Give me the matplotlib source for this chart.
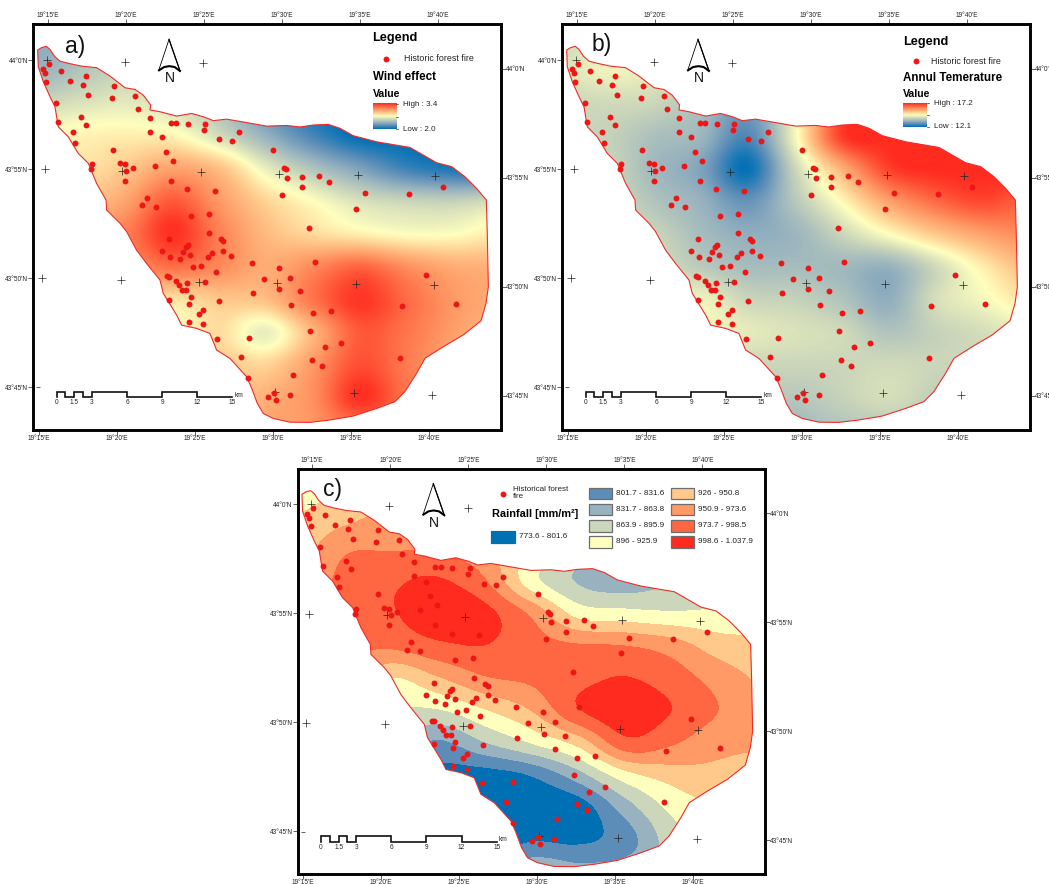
#!/usr/bin/env python3
"""Wind effect, annual temperature and rainfall maps with historic forest fires."""

import matplotlib
matplotlib.use('Agg')
import matplotlib.pyplot as plt
from matplotlib.colors import BoundaryNorm, LinearSegmentedColormap, ListedColormap
from matplotlib.patches import Polygon, Rectangle
import numpy as np

plt.rcParams['font.family'] = ['Liberation Sans', 'DejaVu Sans']

# all positions are minutes: lon = 19 deg + x', lat = 43 deg + y'
lon_ticks = [15, 20, 25, 30, 35, 40]
lon_labels = ["19°15'E", "19°20'E", "19°25'E", "19°30'E", "19°35'E", "19°40'E"]
lat_ticks = [60, 55, 50, 45]
lat_labels = ["44°0'N", "43°55'N", "43°50'N", "43°45'N"]

border_lon = [14.34, 14.59, 14.89, 15.13, 15.41, 15.77, 16.30, 17.16, 18.12, 18.97,
              19.94, 20.58, 21.11, 21.58, 21.54, 22.18, 23.25, 24.21, 24.96, 25.60,
              26.45, 27.74, 29.02, 30.30, 31.15, 32.01, 32.97, 33.72, 34.57, 36.07,
              38.21, 39.06, 39.91, 40.88, 41.73, 42.48, 43.10, 43.16, 43.23, 43.08,
              42.76, 41.62, 40.34, 39.17, 38.63, 37.88, 37.24, 36.07, 34.57, 33.08,
              31.79, 30.51, 29.44, 28.80, 28.42, 28.06, 27.74, 26.67, 25.81, 25.38,
              24.53, 23.57, 23.25, 22.39, 22.18, 21.32, 20.68, 20.04, 19.62, 18.76,
              18.72, 18.12, 17.59, 16.94, 16.30, 15.66, 15.45, 15.13, 14.70, 14.38]
border_lat = [60.46, 60.57, 60.63, 60.49, 60.18, 59.95, 59.85, 59.72, 59.65, 59.27,
              58.73, 58.65, 58.39, 57.94, 57.71, 57.63, 57.43, 57.55, 57.40, 57.22,
              57.29, 57.13, 56.97, 57.00, 56.93, 57.02, 57.05, 56.87, 56.53, 56.25,
              55.99, 55.64, 55.29, 55.11, 54.65, 54.11, 53.58, 52.05, 49.60, 48.84,
              48.04, 47.39, 46.85, 46.32, 45.63, 44.79, 44.33, 44.02, 43.67, 43.49,
              43.38, 43.39, 43.56, 43.79, 44.25, 44.94, 45.47, 46.31, 46.70, 47.46,
              47.69, 47.84, 48.30, 49.30, 49.91, 50.67, 51.28, 52.13, 52.51, 53.12,
              53.58, 54.34, 55.26, 55.72, 56.48, 56.94, 57.86, 58.32, 59.01, 59.69]

fire_lon = [15.06, 14.68, 14.81, 14.89, 15.81, 16.43, 17.44, 17.26, 17.59, 15.51,
            15.66, 17.14, 17.46, 16.58, 16.71, 19.21, 19.08, 20.56, 20.75, 21.52,
            21.52, 22.31, 22.86, 23.23, 23.97, 25.09, 24.98, 25.98, 26.79, 27.22,
            19.19, 22.56, 22.99, 21.88, 19.59, 19.91, 20.02, 20.43, 19.94, 17.80,
            17.76, 22.88, 23.93, 25.68, 21.35, 21.05, 21.90, 24.17, 25.30, 25.34,
            22.78, 26.07, 26.24, 23.95, 23.82, 23.65, 22.31, 22.84, 23.48, 24.12,
            25.26, 25.49, 26.24, 26.73, 24.27, 24.83, 25.77, 28.06, 22.65, 22.78,
            23.18, 23.38, 23.57, 23.87, 23.93, 25.09, 24.17, 22.78, 24.02, 25.96,
            24.91, 24.66, 24.04, 24.94, 25.85, 27.86, 27.39, 27.84, 29.44, 30.11,
            30.26, 30.32, 31.28, 32.39, 32.99, 31.26, 29.98, 35.30, 38.12, 40.30,
            34.76, 31.73, 32.09, 29.81, 28.82, 30.53, 29.83, 31.18, 28.14, 30.58,
            31.97, 33.14, 31.77, 33.76, 32.76, 31.94, 32.59, 30.71, 29.49, 29.10,
            29.59, 30.49, 39.25, 37.67, 41.13, 37.56]
fire_lat = [59.83, 59.57, 59.39, 58.99, 59.51, 59.05, 59.28, 58.87, 58.41, 58.04,
            57.17, 57.40, 57.03, 56.68, 56.21, 58.81, 58.27, 58.35, 57.74, 57.35,
            56.71, 56.45, 57.11, 57.11, 57.06, 57.06, 56.79, 56.36, 56.28, 56.68,
            55.89, 55.80, 55.38, 55.15, 55.26, 55.21, 54.92, 55.05, 54.46, 55.21,
            54.98, 54.46, 54.07, 54.01, 53.67, 53.33, 53.27, 52.84, 52.95, 52.05,
            51.80, 51.77, 51.68, 51.53, 51.44, 51.21, 51.25, 50.96, 50.86, 51.07,
            50.95, 51.13, 51.24, 51.02, 50.49, 50.55, 50.29, 50.69, 50.08, 50.06,
            49.85, 49.66, 49.43, 49.43, 49.79, 49.83, 49.11, 48.99, 48.81, 48.94,
            48.53, 48.35, 48.00, 47.87, 47.22, 47.25, 46.36, 45.40, 55.89, 55.06,
            54.98, 54.60, 54.65, 54.69, 54.42, 54.16, 53.82, 53.88, 53.84, 54.16,
            53.17, 52.29, 50.72, 50.47, 49.95, 50.00, 49.48, 49.39, 49.30, 48.78,
            48.38, 48.47, 47.57, 47.02, 46.82, 46.24, 45.98, 45.57, 44.74, 44.56,
            44.40, 44.63, 50.14, 48.70, 48.82, 46.35]

cross_lon = [14.94, 19.94, 24.96, 14.79, 19.76, 24.79, 29.81, 34.85, 39.83,
             14.62, 19.66, 24.68, 29.68, 34.72, 39.72, 29.53, 34.62, 39.64]
cross_lat = [60.00, 59.92, 59.85, 54.98, 54.92, 54.85, 54.79, 54.71, 54.66,
             49.98, 49.91, 49.83, 49.79, 49.71, 49.66, 44.79, 44.71, 44.65]

scale_km = [0, 0.75, 1.5, 2.25, 3, 6, 9, 12, 15]
scale_labels = ['0', '1.5', '3', '6', '9', '12', '15']
scale_label_km = [0, 1.5, 3, 6, 9, 12, 15]

# field samples on a lon 14..44 (step 3), lat 61..43 (step 1.5) grid
# a) and b) are colour ramp positions 0 (low) to 8 (high)
grid_lon = [14, 17, 20, 23, 26, 29, 32, 35, 38, 41, 44]
grid_lat = [61, 59.5, 58, 56.5, 55, 53.5, 52, 50.5, 49, 47.5, 46, 44.5, 43]

wind_pos = [
    [1.8, 2.2, 3.0, 3.0, 3.0, 2.0, 1.0, 0.5, 0.0, 0.0, 0.0],
    [2.0, 2.5, 3.0, 3.0, 3.0, 2.5, 1.0, 0.0, 0.0, 0.0, 0.0],
    [3.0, 3.3, 3.5, 3.2, 2.5, 1.2, 0.3, 0.0, 0.0, 0.0, 0.0],
    [4.0, 4.2, 4.3, 4.2, 3.2, 2.0, 0.8, 0.0, 0.0, 0.0, 0.0],
    [4.5, 4.5, 5.0, 5.8, 5.2, 3.6, 2.5, 1.6, 0.7, 0.3, 0.2],
    [5.0, 5.0, 5.8, 7.2, 6.0, 4.8, 4.0, 3.3, 3.0, 2.9, 3.2],
    [6.0, 6.0, 6.5, 7.9, 6.5, 5.3, 4.7, 4.3, 4.0, 4.0, 4.4],
    [6.0, 6.0, 6.0, 6.8, 6.3, 5.6, 6.3, 7.0, 6.2, 5.6, 5.5],
    [5.0, 5.0, 5.0, 4.5, 5.0, 5.2, 6.7, 7.8, 6.9, 6.0, 5.6],
    [4.0, 4.0, 4.0, 4.0, 4.6, 3.6, 5.4, 7.2, 6.7, 5.9, 5.3],
    [4.5, 4.5, 4.5, 4.5, 5.0, 4.8, 6.0, 7.4, 6.6, 5.7, 5.2],
    [5.0, 5.0, 5.0, 5.0, 5.0, 5.5, 6.2, 7.9, 6.7, 5.9, 5.3],
    [5.0, 5.0, 5.0, 5.0, 5.0, 5.7, 6.0, 6.6, 6.4, 5.8, 5.3],
]

temp_pos = [
    [3.0, 3.5, 3.5, 3.0, 2.5, 3.0, 5.0, 8.0, 8.0, 8.0, 8.0],
    [3.3, 3.7, 3.5, 3.0, 2.0, 3.5, 7.0, 8.0, 8.0, 8.0, 8.0],
    [3.0, 3.1, 3.0, 2.4, 1.5, 3.5, 7.0, 8.0, 8.0, 8.0, 8.0],
    [3.0, 2.9, 2.4, 2.1, 0.9, 3.8, 7.7, 8.0, 8.0, 8.0, 8.0],
    [3.0, 3.0, 2.2, 1.6, 0.1, 3.0, 5.5, 7.6, 8.0, 8.0, 8.0],
    [3.5, 3.2, 2.5, 2.0, 1.2, 2.6, 4.1, 5.8, 6.9, 7.5, 7.0],
    [4.0, 3.5, 3.0, 2.3, 1.9, 2.1, 3.0, 4.0, 5.0, 5.8, 6.3],
    [4.0, 3.8, 3.3, 2.7, 2.3, 2.3, 2.2, 2.0, 3.1, 4.3, 5.3],
    [4.0, 3.8, 3.5, 3.7, 3.0, 2.9, 2.5, 1.9, 3.2, 3.8, 4.5],
    [3.5, 3.5, 3.5, 3.7, 3.5, 3.3, 3.1, 2.5, 2.9, 3.2, 3.5],
    [3.0, 3.0, 3.0, 3.0, 3.0, 3.0, 3.0, 3.1, 3.0, 3.0, 3.0],
    [2.5, 2.5, 2.5, 2.5, 2.7, 2.6, 2.9, 3.2, 2.8, 2.7, 2.7],
    [2.2, 2.2, 2.2, 2.2, 2.2, 2.2, 2.5, 2.6, 2.5, 2.5, 2.5],
]

# c) position among the nine rainfall classes, class k covers k..k+1
rain_pos = [
    [4.5, 5.0, 5.0, 6.0, 6.0, 5.0, 4.0, 3.0, 3.0, 3.0, 3.0],
    [5.0, 5.6, 6.3, 7.0, 6.5, 5.0, 3.5, 3.0, 2.5, 2.5, 2.5],
    [5.5, 6.8, 6.9, 6.9, 6.3, 5.0, 3.5, 2.2, 2.5, 2.5, 2.5],
    [6.0, 7.3, 7.8, 8.1, 7.1, 4.4, 2.9, 2.4, 2.9, 3.0, 3.0],
    [6.5, 7.4, 7.9, 8.6, 8.3, 6.8, 4.6, 4.3, 4.1, 4.2, 4.5],
    [7.0, 7.2, 7.2, 7.8, 8.0, 7.4, 7.1, 7.0, 6.5, 5.5, 5.2],
    [7.0, 7.0, 5.0, 5.9, 6.9, 7.2, 7.7, 8.05, 7.5, 6.6, 5.8],
    [5.0, 5.0, 4.0, 3.9, 4.9, 6.0, 7.9, 8.6, 8.0, 7.0, 6.2],
    [3.0, 3.0, 3.0, 1.8, 2.9, 4.0, 5.3, 7.6, 7.1, 6.3, 6.1],
    [1.0, 1.0, 1.0, 0.6, 0.5, 1.0, 2.5, 4.5, 5.4, 5.7, 5.5],
    [0.0, 0.0, 0.0, 0.0, 0.1, 0.2, 0.4, 2.4, 4.2, 5.0, 5.0],
    [0.0, 0.0, 0.0, 0.0, 0.3, 1.0, 0.9, 1.5, 3.5, 4.5, 5.0],
    [1.0, 1.0, 1.0, 1.0, 1.5, 3.0, 2.5, 2.7, 3.5, 4.5, 5.0],
]

ramp_colors = ['#0070B5', '#5B8DB8', '#98B3BF', '#CBD6BA', '#FFFFBE',
               '#FFC98C', '#FF9A66', '#FF6642', '#FF2B1F']
rain_classes = ['773.6 - 801.6', '801.7 - 831.6', '831.7 - 863.8', '863.9 - 895.9',
                '896 - 925.9', '926 - 950.8', '950.9 - 973.6', '973.7 - 998.5',
                '998.6 - 1.037.9']

RED = '#EE1515'
ramp = LinearSegmentedColormap.from_list('ramp', ramp_colors)
classes = ListedColormap(ramp_colors)
XLIM = (14.06, 44.04)
YLIM = (43.03, 61.64)
W, H = 1049, 884


def make_axes(left, top):
    """Axes placed by frame position in pixels, with skewed bottom and right ticks."""
    ax = plt.gcf().add_axes([left / W, 1 - (top + 405.7) / H, 467.7 / W, 405.7 / H])
    ax.set_xlim(XLIM)
    ax.set_ylim(YLIM)
    ax.set_xticks(lon_ticks, lon_labels)
    ax.set_yticks(lat_ticks, lat_labels)
    ax.tick_params(top=True, labeltop=True, bottom=False, labelbottom=False,
                   length=3.6, width=0.5, pad=0, labelsize=4.7, colors='#222222')
    for spine in ax.spines.values():
        spine.set_linewidth(2.1)

    bottom = ax.secondary_xaxis('bottom', functions=(lambda v: v + 0.58, lambda v: v - 0.58))
    bottom.set_xticks(lon_ticks, lon_labels)
    right = ax.secondary_yaxis('right', functions=(lambda v: v + 0.40, lambda v: v - 0.40))
    right.set_yticks(lat_ticks, lat_labels)
    for sec in (bottom, right):
        sec.tick_params(length=3.6, width=0.5, pad=0, labelsize=4.7, colors='#222222')
        for spine in sec.spines.values():
            spine.set_visible(False)
    return ax


def draw_map(ax, field, cmap, norm):
    """Field clipped to the study area, border, graticule crosses and fires."""
    extent = (grid_lon[0] - 1.5, grid_lon[-1] + 1.5, grid_lat[-1] - 0.75, grid_lat[0] + 0.75)
    im = ax.imshow(field, extent=extent, origin='upper', aspect='auto', cmap=cmap, norm=norm,
                   interpolation='catrom', interpolation_stage='data', zorder=1)
    outline = Polygon(np.column_stack([border_lon, border_lat]), closed=True, fill=False,
                      edgecolor='#F02A2A', linewidth=0.8, zorder=3)
    ax.add_patch(outline)
    im.set_clip_path(outline)
    ax.set_xlim(XLIM)
    ax.set_ylim(YLIM)
    ax.plot(cross_lon, cross_lat, ls='none', marker='+', ms=6, mew=0.5, color='#222222', zorder=4)
    ax.plot([14.38], [44.98], ls='none', marker='_', ms=2.5, mew=0.5, color='#222222', zorder=4)
    ax.scatter(fire_lon, fire_lat, s=18, color=RED, linewidths=0, zorder=5)


def draw_furniture(ax, letter, letter_lon, letter_lat):
    """Panel letter, north arrow and stepped scale bar."""
    ax.text(letter_lon, letter_lat, letter, fontsize=16.5, va='center', color='#111111')

    ax.plot([22.12, 22.76, 23.46], [59.57, 60.95, 59.51], color='black', lw=0.6, zorder=6)
    ax.plot([22.12, 22.45, 22.78, 23.12, 23.46], [59.53, 59.68, 59.72, 59.68, 59.50],
            color='black', lw=1.5, zorder=6)
    ax.plot([22.76, 23.46], [60.95, 59.51], color='black', lw=0.9, zorder=6)
    ax.text(22.82, 59.16, 'N', fontsize=10, ha='center', va='center', color='#111111')

    km_to_lon = 0.7507
    xs, ys = [15.56], [44.53]
    high = True
    for start, stop in zip(scale_km[:-1], scale_km[1:]):
        y = 44.79 if high else 44.53
        xs += [15.56 + start * km_to_lon, 15.56 + stop * km_to_lon]
        ys += [y, y]
        high = not high
    xs.append(xs[-1])
    ys.append(44.53)
    ax.plot(xs, ys, color='#111111', lw=1.2, zorder=6, solid_joinstyle='miter')
    for km, label in zip(scale_label_km, scale_labels):
        ax.text(15.56 + km * km_to_lon, 44.28, label, fontsize=4.7, ha='center', va='center',
                color='#222222')
    ax.text(26.95, 44.62, 'km', fontsize=4.7, va='center', color='#222222')


def draw_ramp_legend(ax, title, high, low, pos):
    """Legend block of panels a) and b)."""
    ax.text(pos['x'], pos['legend'], 'Legend', fontsize=9.2, fontweight='bold', va='center')
    ax.scatter([pos['x'] + 0.83], [pos['fire']], s=18, color=RED, linewidths=0, zorder=5)
    ax.text(pos['fire_x'], pos['fire'], 'Historic forest fire', fontsize=6.4, va='center',
            color='#222222')
    ax.text(pos['x'], pos['title'], title, fontsize=8.4, fontweight='bold', va='center')
    ax.text(pos['x'], pos['value'], 'Value', fontsize=7.6, fontweight='bold', va='center')

    ramp_box = (pos['x'], pos['x'] + 1.5, pos['low'], pos['high'])
    ax.imshow(np.linspace(1, 0, 64)[:, None], extent=ramp_box, aspect='auto', cmap=ramp,
              vmin=0, vmax=1, zorder=2)
    ax.set_xlim(XLIM)
    ax.set_ylim(YLIM)
    mid = (pos['low'] + pos['high']) / 2
    for y in (pos['high'], mid, pos['low']):
        ax.plot([pos['x'] + 1.5, pos['x'] + 1.65], [y, y], color='#333333', lw=0.5)
    ax.text(pos['x'] + 1.95, pos['high'], 'High : ' + high, fontsize=5.8, va='center',
            color='#222222')
    ax.text(pos['x'] + 1.95, pos['low'], 'Low : ' + low, fontsize=5.8, va='center',
            color='#222222')


def draw_class_legend(ax):
    """Legend block of panel c)."""
    ax.scatter([27.24], [60.47], s=18, color=RED, linewidths=0, zorder=5)
    ax.text(27.84, 60.52, 'Historical forest\nfire', fontsize=5.8, va='center', linespacing=0.95,
            color='#222222')
    ax.text(26.50, 59.56, 'Rainfall [mm/m²]', fontsize=7.9, fontweight='bold', va='center')

    box_x = [26.47] + [32.74] * 4 + [37.97] * 4
    box_w = [1.54] + [1.50] * 8
    box_top = [58.78] + [60.76, 60.02, 59.28, 58.55] * 2
    for i, label in enumerate(rain_classes):
        edge = '#0070B5' if i == 0 else '#6E6E6E'
        ax.add_patch(Rectangle((box_x[i], box_top[i] - 0.53), box_w[i], 0.53, facecolor=ramp_colors[i],
                               edgecolor=edge, linewidth=0.9, zorder=2))
        ax.text(box_x[i] + box_w[i] + 0.26, box_top[i] - 0.27, label, fontsize=5.9, va='center',
                color='#222222')


def main():
    fig = plt.figure(figsize=(W / 100, H / 100), dpi=100)

    ax_a = make_axes(33.3, 24.3)
    draw_map(ax_a, wind_pos, ramp, plt.Normalize(0, 8))
    draw_furniture(ax_a, 'a)', 16.09, 60.61)
    draw_ramp_legend(ax_a, 'Wind effect', '3.4', '2.0',
                     {'x': 35.81, 'fire_x': 37.80, 'legend': 61.02, 'fire': 60.06, 'title': 59.24,
                      'value': 58.46, 'high': 57.97, 'low': 56.82})

    ax_b = make_axes(562.3, 24.3)
    draw_map(ax_b, temp_pos, ramp, plt.Normalize(0, 8))
    draw_furniture(ax_b, 'b)', 15.94, 60.73)
    draw_ramp_legend(ax_b, 'Annul Temerature', '17.2', '12.1',
                     {'x': 35.92, 'fire_x': 37.69, 'legend': 60.81, 'fire': 59.94, 'title': 59.17,
                      'value': 58.46, 'high': 58.01, 'low': 56.94})

    ax_c = make_axes(297.6, 468.6)
    draw_map(ax_c, rain_pos, classes, BoundaryNorm(np.arange(10), 9, clip=True))
    draw_furniture(ax_c, 'c)', 15.71, 60.69)
    draw_class_legend(ax_c)

    fig.savefig('out.png', dpi=100)


if __name__ == '__main__':
    main()
